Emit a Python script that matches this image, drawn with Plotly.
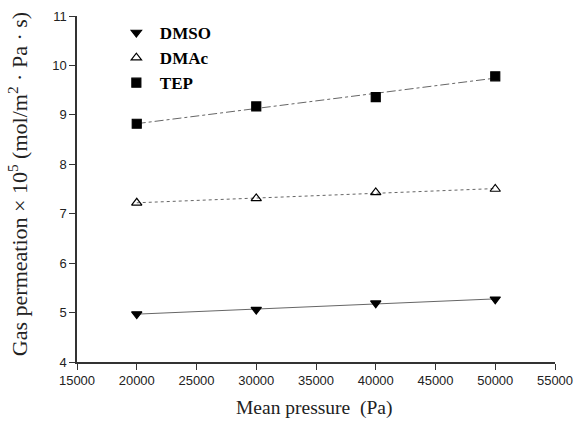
import numpy as np
import plotly.graph_objects as go

pressure = [20000, 30000, 40000, 50000]
dmso = [4.97, 5.06, 5.19, 5.27]
dmac = [7.22, 7.31, 7.43, 7.50]
tep = [8.82, 9.17, 9.36, 9.78]

x_title = "Mean pressure  (Pa)"
y_title = "Gas permeation × 10<sup>5</sup> (mol/m<sup>2</sup> · Pa · s)"

series = [
    ("DMSO", dmso, "triangle-down", "black", "solid"),
    ("DMAc", dmac, "triangle-up-open", "black", "dot"),
    ("TEP", tep, "square", "black", "dashdot"),
]

fig = go.Figure()
xs = np.array(pressure, dtype=float)
for name, vals, sym, col, dash in series:
    k, b = np.polyfit(xs, np.array(vals), 1)
    fig.add_trace(go.Scatter(x=[xs[0], xs[-1]], y=[k * xs[0] + b, k * xs[-1] + b],
                             mode="lines", line=dict(color="#666666", width=1, dash=dash),
                             showlegend=False, hoverinfo="skip"))
for name, vals, sym, col, dash in series:
    fig.add_trace(go.Scatter(x=pressure, y=vals, mode="markers", name="<b>" + name + "</b>",
                             marker=dict(symbol=sym, size=9, color=col,
                                         line=dict(color="black", width=1.2))))

axis_common = dict(showline=True, linecolor="#333333", linewidth=1.5, ticks="outside",
                   ticklen=6, tickcolor="#333333", showgrid=False, zeroline=False,
                   automargin=False,
                   tickfont=dict(family="Arial, Liberation Sans", size=13, color="#222222"))
fig.update_xaxes(range=[15000, 55000], dtick=5000, tick0=15000, tickformat="d", **axis_common)
fig.update_yaxes(range=[4, 11], dtick=1, **axis_common)

title_font = dict(family="Liberation Serif, Times New Roman", color="#222222")
fig.add_annotation(text=x_title, xref="paper", yref="paper", x=0.496, y=-0.133,
                   xanchor="center", yanchor="middle", showarrow=False,
                   font=dict(size=19.5, **title_font))
fig.add_annotation(text=y_title, xref="paper", yref="paper", x=-0.1234, y=0.514,
                   xanchor="center", yanchor="middle", showarrow=False, textangle=-90,
                   font=dict(size=22, **title_font))

fig.update_layout(
    width=574, height=424,
    margin=dict(l=77, r=19, t=16, b=62),
    plot_bgcolor="white", paper_bgcolor="white",
    legend=dict(x=0.075, y=1.003, xanchor="left", yanchor="top",
                font=dict(family="Liberation Serif, Times New Roman", size=17, color="black"),
                bgcolor="rgba(0,0,0,0)", tracegroupgap=0, itemwidth=37),
)
fig.write_html("out.html", config={"displayModeBar": False},
               post_script="document.body.style.margin='0';document.body.style.overflow='hidden';")
